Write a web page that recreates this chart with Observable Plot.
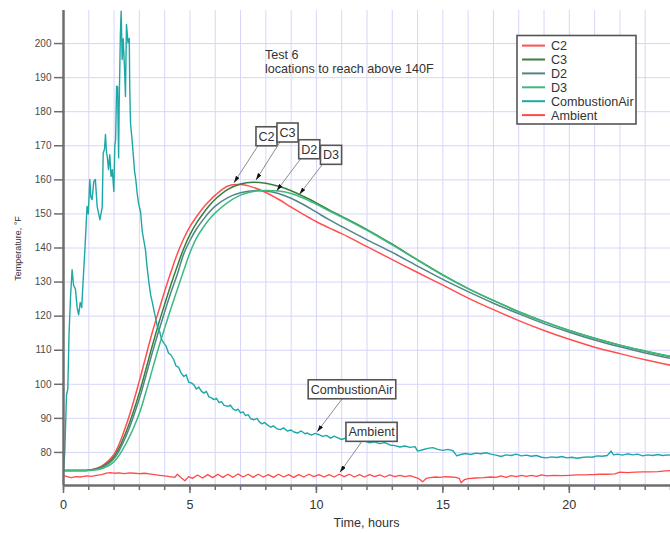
<!DOCTYPE html>
<html><head><meta charset="utf-8">
<script src="https://cdn.jsdelivr.net/npm/d3@7"></script>
<script src="https://cdn.jsdelivr.net/npm/@observablehq/plot@0.6"></script>
<style>html,body{margin:0;padding:0;background:#fff;} #chart{position:relative;width:670px;height:533px;overflow:hidden;}</style>
</head><body><div id="chart"></div>
<script>
// ---- data ----
const hours = [0,0.5,1,1.5,2,2.5,3,3.25,3.5,3.75,4,4.25,4.5,4.75,5,5.25,5.5,5.75,6,6.5,7,7.5,8,8.5,9,9.5,10,10.5,11,12,13,14,15,16,17,18,19,20,21,22,23,24];
const C2 = [74.7,74.7,74.8,76.0,79.5,88.5,101.0,108.0,115.0,121.2,127.3,133.0,138.3,142.7,146.3,149.1,151.6,153.7,155.5,158.2,158.6,157.8,156.3,154.3,152.0,149.8,147.7,145.9,144.2,140.4,136.6,132.8,129.1,125.3,121.9,118.7,115.8,113.2,110.9,109.0,107.2,105.6];
const C3 = [74.7,74.7,74.8,75.7,78.8,86.5,97.5,104.2,111.0,117.5,123.5,129.3,134.7,139.8,143.9,147.2,149.9,152.3,154.3,157.2,158.8,159.3,159.0,158.1,156.8,155.1,153.2,151.2,149.3,145.4,141.1,136.5,132.1,128.1,124.6,121.3,118.4,115.8,113.5,111.5,109.7,108.1];
const D2 = [74.7,74.7,74.8,75.5,78.2,85.3,95.8,102.3,109.0,115.3,121.3,127.0,132.3,138.2,142.2,145.5,148.1,150.4,152.3,154.8,156.2,156.8,156.7,156.0,154.6,152.7,150.5,148.3,146.3,142.4,138.7,134.7,130.8,127.2,123.8,120.7,117.8,115.3,113.0,111.0,109.2,107.6];
const D3 = [74.7,74.7,74.7,75.2,77.3,83.0,91.5,97.5,104.0,110.5,116.5,122.3,127.8,133.3,138.6,142.8,145.8,148.3,150.3,153.4,155.5,156.6,156.9,156.7,156.0,154.6,152.8,150.9,149.1,145.2,140.9,136.4,132.0,128.1,124.6,121.3,118.4,115.8,113.5,111.5,109.8,108.2];
// [hour, °F]
const combustionAir = [[0,74.5],[0.05,80],[0.12,97],[0.17,98.5],[0.22,115],[0.28,126],[0.34,133.6],[0.4,129],[0.47,128],[0.54,122.5],[0.6,120.4],[0.66,124],[0.72,122.5],[0.78,131],[0.85,140],[0.93,152.2],[0.98,150],[1.04,160.1],[1.08,155],[1.13,154.2],[1.2,159.6],[1.26,160.1],[1.33,152.2],[1.44,148.3],[1.49,150.3],[1.53,152],[1.57,167.9],[1.62,169],[1.66,173.3],[1.7,168],[1.73,166.9],[1.78,163],[1.83,167.4],[1.88,161],[1.93,163],[1.99,156.6],[2.03,170],[2.06,171.8],[2.1,187.5],[2.14,187.3],[2.16,176],[2.18,166.4],[2.2,181.6],[2.25,203.1],[2.28,209.5],[2.32,195.3],[2.36,201.4],[2.38,198],[2.41,193.3],[2.45,184.5],[2.49,205.6],[2.52,203],[2.55,200.2],[2.6,201.5],[2.62,186.5],[2.65,176.7],[2.72,171],[2.81,162.5],[2.86,160],[2.91,156.2],[2.97,153],[3.05,150.5],[3.11,145],[3.18,142],[3.24,139.5],[3.31,134],[3.38,129.7],[3.45,126],[3.5,124.5],[3.57,121.9],[3.64,119.5],[3.71,117],[3.8,115.5],[3.88,113.2],[3.97,112.1],[4.05,111.3],[4.15,109.2],[4.25,108.6],[4.36,107.2],[4.45,105.4],[4.55,105.0],[4.66,103.2],[4.76,102.3],[4.85,102.8],[4.95,100.6],[5.05,100.4],[5.15,99.9],[5.25,98.6],[5.35,99.2],[5.45,98.0],[5.55,97.4],[5.65,97.9],[5.75,96.3],[5.85,96.0],[5.95,95.5],[6.05,95.9],[6.15,94.6],[6.25,94.9],[6.35,93.8],[6.5,93.5],[6.6,93.9],[6.7,92.8],[6.8,92.3],[6.9,92.7],[7.0,91.6],[7.1,91.9],[7.2,90.8],[7.3,91.1],[7.4,89.9],[7.53,89.6],[7.65,90.0],[7.75,88.9],[7.85,88.4],[7.95,88.8],[8.06,88.1],[8.2,87.4],[8.3,87.8],[8.45,86.9],[8.58,86.7],[8.7,87.2],[8.85,86.3],[9.0,86.6],[9.11,86.0],[9.25,85.7],[9.4,86.3],[9.55,85.5],[9.64,85.7],[9.8,85.1],[9.95,85.6],[10.1,85.2],[10.25,84.7],[10.4,85.0],[10.56,84.2],[10.7,84.8],[10.85,84.3],[11.0,83.8],[11.15,84.2],[11.3,83.5],[11.5,83.9],[11.7,83.2],[11.9,83.4],[12.1,82.8],[12.3,83.1],[12.5,82.6],[12.7,82.9],[12.9,82.2],[13.1,82.0],[13.3,81.6],[13.5,81.9],[13.7,81.5],[13.9,81.7],[14.0,80.4],[14.2,80.8],[14.4,81.2],[14.6,81.4],[14.8,80.9],[15.0,80.6],[15.2,80.9],[15.4,80.5],[15.55,79.0],[15.7,79.4],[15.9,79.7],[16.1,79.4],[16.3,79.8],[16.5,79.6],[16.7,79.9],[16.9,79.5],[17.1,79.2],[17.3,78.8],[17.5,79.3],[17.7,79.1],[17.9,79.5],[18.1,79.0],[18.3,79.2],[18.5,78.9],[18.7,79.1],[18.9,78.6],[19.1,78.4],[19.3,78.7],[19.5,78.5],[19.7,78.8],[19.9,78.4],[20.1,78.6],[20.3,78.3],[20.5,78.5],[20.7,78.7],[20.9,78.6],[21.1,79.0],[21.3,78.9],[21.5,79.1],[21.65,80.4],[21.75,79.3],[21.9,79.5],[22.1,79.2],[22.3,79.6],[22.5,79.3],[22.7,79.5],[22.9,79.0],[23.1,79.3],[23.3,79.1],[23.5,79.4],[23.7,79.1],[23.9,79.3],[24.0,79.2]];
const ambient = [[0,73.2],[0.15,72.9],[0.3,72.6],[0.5,72.9],[0.7,72.8],[0.9,73.1],[1.1,73.0],[1.3,73.3],[1.5,73.5],[1.7,73.9],[1.85,74.1],[2.0,73.9],[2.2,74.0],[2.4,73.8],[2.6,74.0],[2.8,73.9],[3.0,73.8],[3.2,73.9],[3.4,73.7],[3.6,73.5],[3.8,73.3],[4.0,73.1],[4.2,72.9],[4.4,72.7],[4.5,73.6],[4.65,72.6],[4.8,71.7],[4.95,72.9],[5.1,72.4],[5.3,73.4],[5.5,72.5],[5.7,73.5],[5.9,72.6],[6.1,73.6],[6.3,72.7],[6.5,73.6],[6.7,72.7],[6.9,73.7],[7.1,72.8],[7.3,73.6],[7.5,72.7],[7.7,73.6],[7.9,72.8],[8.1,73.5],[8.3,72.7],[8.5,73.6],[8.7,72.8],[8.9,73.5],[9.1,72.7],[9.3,73.5],[9.5,72.8],[9.7,73.6],[9.9,72.9],[10.1,73.5],[10.3,72.8],[10.5,73.5],[10.7,72.8],[10.9,73.6],[11.1,72.9],[11.3,73.6],[11.5,72.8],[11.7,73.5],[11.9,72.8],[12.1,73.5],[12.3,72.9],[12.5,73.4],[12.7,72.8],[12.9,73.4],[13.1,72.9],[13.3,73.3],[13.5,72.9],[13.7,73.2],[13.9,72.7],[14.05,72.3],[14.2,71.4],[14.35,72.4],[14.5,72.6],[14.7,72.8],[14.9,72.7],[15.1,72.9],[15.3,72.8],[15.5,72.7],[15.65,72.4],[15.72,71.1],[15.85,72.0],[16.0,72.3],[16.3,72.5],[16.6,72.6],[16.9,72.8],[17.1,72.7],[17.3,73.1],[17.5,72.7],[17.7,73.2],[17.9,72.9],[18.1,73.3],[18.3,73.0],[18.5,73.3],[18.7,73.0],[18.9,73.4],[19.1,73.1],[19.4,73.3],[19.7,73.2],[20.0,73.3],[20.3,73.4],[20.6,73.4],[20.9,73.5],[21.2,73.6],[21.5,73.6],[21.8,73.7],[22.0,74.2],[22.3,74.1],[22.6,74.2],[22.9,74.3],[23.2,74.3],[23.5,74.4],[23.8,74.6],[24.0,74.7]];

const seriesNames = ["C2","C3","D2","D3","CombustionAir","Ambient"];
const seriesColors = ["#ff4f4f","#3a7f3e","#4e8786","#3dbb7c","#1fa7a7","#ff4a4a"];
const xTicks = [0,5,10,15,20];
const xMinorTicks = d3.range(0,25,1);
const yTicks = d3.range(80,201,10);
const titleLines = ["Test 6","locations to reach above 140F"];
const xLabel = "Time, hours";
const yLabel = "Temperature, °F";
const calloutNames = ["C2","C3","D2","D3","CombustionAir","Ambient"];
const calloutHours = [6.76,7.63,8.45,9.35,10.05,10.95];

// ---- build tables ----
const color = Object.fromEntries(seriesNames.map((n,i)=>[n,seriesColors[i]]));
const curveTables = {C2, C3, D2, D3};
const curveRows = {};
for (const k of Object.keys(curveTables)) curveRows[k] = hours.map((h,i)=>({t:h, v:curveTables[k][i]}));
curveRows.CombustionAir = combustionAir.map(([t,v])=>({t,v}));
curveRows.Ambient = ambient.map(([t,v])=>({t,v}));

const yMin = 70.3, yMax = 209.7;
const axisGray = "#6e6e6e";
const font = "'Liberation Sans', Arial, Helvetica, sans-serif";

const chart = Plot.plot({
  width: 670, height: 533,
  marginLeft: 63, marginRight: 0, marginTop: 10, marginBottom: 48,
  style: {fontFamily: font, background: "#fff", color: "#333"},
  x: {domain: [0, 24]},
  y: {domain: [yMin, yMax]},
  marks: [
    Plot.gridX(xMinorTicks, {stroke: "#d6d6fb", strokeOpacity: 1, strokeWidth: 1}),
    Plot.gridY(yTicks, {stroke: "#d6d6fb", strokeOpacity: 1, strokeWidth: 1}),
    Plot.line(curveRows.C2, {x: "t", y: "v", stroke: color.C2, strokeWidth: 1.5, curve: "catmull-rom", clip: true}),
    Plot.line(curveRows.C3, {x: "t", y: "v", stroke: color.C3, strokeWidth: 1.5, curve: "catmull-rom", clip: true}),
    Plot.line(curveRows.D2, {x: "t", y: "v", stroke: color.D2, strokeWidth: 1.5, curve: "catmull-rom", clip: true}),
    Plot.line(curveRows.D3, {x: "t", y: "v", stroke: color.D3, strokeWidth: 1.5, curve: "catmull-rom", clip: true}),
    Plot.line(curveRows.CombustionAir, {x: "t", y: "v", stroke: color.CombustionAir, strokeWidth: 1.4, clip: true}),
    Plot.line(curveRows.Ambient, {x: "t", y: "v", stroke: color.Ambient, strokeWidth: 1.3, clip: true}),
    Plot.ruleY([yMin], {stroke: axisGray, strokeWidth: 2.5}),
    Plot.ruleX([0], {stroke: axisGray, strokeWidth: 2.5}),
    Plot.axisY(yTicks, {tickSize: 9, tickPadding: 3, fontSize: 10, fill: "#4a4a4a", stroke: axisGray, strokeWidth: 1.5, label: null}),
    Plot.axisX(xMinorTicks, {tickSize: 5, tickFormat: () => "", stroke: axisGray, strokeWidth: 1.5, label: null}),
    Plot.axisX(xTicks, {tickSize: 8, tickPadding: 7, fontSize: 12.6, fill: "#333", stroke: axisGray, strokeWidth: 1.5, label: null})
  ]
});
document.getElementById("chart").appendChild(chart);

// ---- annotations drawn through the plot's scales ----
const sx = chart.scale("x"), sy = chart.scale("y");
const X = v => sx.apply(v), Y = v => sy.apply(v);
const svg = d3.select(chart);
const interp = (rows, h) => {
  for (let i = 1; i < rows.length; i++) {
    if (rows[i].t >= h) { const a = rows[i-1], b = rows[i]; const f = (h - a.t) / (b.t - a.t); return a.v + f * (b.v - a.v); }
  }
  return rows[rows.length-1].v;
};

const overlay = svg.append("g").attr("font-family", font).attr("text-anchor", "start");

// axis labels
overlay.append("text").attr("x", (X(0)+X(24))/2).attr("y", 527).attr("text-anchor","middle")
  .attr("font-size", 12.6).attr("fill", "#333").text(xLabel);
overlay.append("text").attr("transform", "translate(21,248.5) rotate(-90)").attr("text-anchor","middle")
  .attr("font-size", 9).attr("fill", "#333").text(yLabel);

// title text
titleLines.forEach((s,i) => overlay.append("text").attr("x", 265).attr("y", 58.5 + i*14)
  .attr("text-anchor","start").attr("font-size", 12.6).attr("fill", "#333").text(s));

// arrowhead marker
const defs = svg.append("defs");
defs.append("marker").attr("id","ah").attr("viewBox","0 0 10 6").attr("refX",10).attr("refY",3)
  .attr("markerWidth",7).attr("markerHeight",4.5).attr("markerUnits","userSpaceOnUse").attr("orient","auto")
  .append("path").attr("d","M0,0 L10,3 L0,6 Z").attr("fill","#111");

// callouts: attach point (dx,dy) relative to curve tip, box left relative to attach point
const calloutGeom = [
  {dx: 24, dy: -37, bx: -2},
  {dx: 24, dy: -38, bx: -3},
  {dx: 24, dy: -32, bx: -2},
  {dx: 23, dy: -30, bx: -2},
  {dx: 25, dy: -33, bx: -34},
  {dx: 22, dy: -31, bx: -16}
];
calloutNames.forEach((name, i) => {
  const h = calloutHours[i];
  const v = interp(curveRows[name], h);
  const tx = X(h), ty = Y(v) - 2;
  const g = calloutGeom[i];
  const ax = tx + g.dx, ay = ty + g.dy;
  overlay.append("line").attr("x1", ax).attr("y1", ay).attr("x2", tx).attr("y2", ty)
    .attr("stroke", "#8c8c8c").attr("stroke-width", 1).attr("marker-end", "url(#ah)");
  const t = overlay.append("text").attr("text-anchor","start").attr("font-size", 12.6).attr("fill", "#333").text(name);
  const w = t.node().getComputedTextLength();
  const left = ax + g.bx, bh = 19;
  overlay.insert("rect", () => t.node()).attr("x", left).attr("y", ay - bh).attr("width", w + 5).attr("height", bh)
    .attr("fill", "#fff").attr("stroke", "#555").attr("stroke-width", 1.6);
  t.attr("x", left + 2.5).attr("y", ay - 5);
});

// legend
const lg = overlay.append("g");
lg.append("rect").attr("x", 517).attr("y", 35.5).attr("width", 119).attr("height", 88.5)
  .attr("fill", "#fff").attr("stroke", "#555").attr("stroke-width", 1.6);
seriesNames.forEach((name, i) => {
  const cy = 45.6 + i * 13.9;
  lg.append("line").attr("x1", 522).attr("x2", 545).attr("y1", cy).attr("y2", cy)
    .attr("stroke", seriesColors[i]).attr("stroke-width", 2);
  lg.append("text").attr("text-anchor","start").attr("x", 551).attr("y", cy + 4.5).attr("font-size", 12.6).attr("fill", "#333").text(name);
});
</script>
</body></html>
